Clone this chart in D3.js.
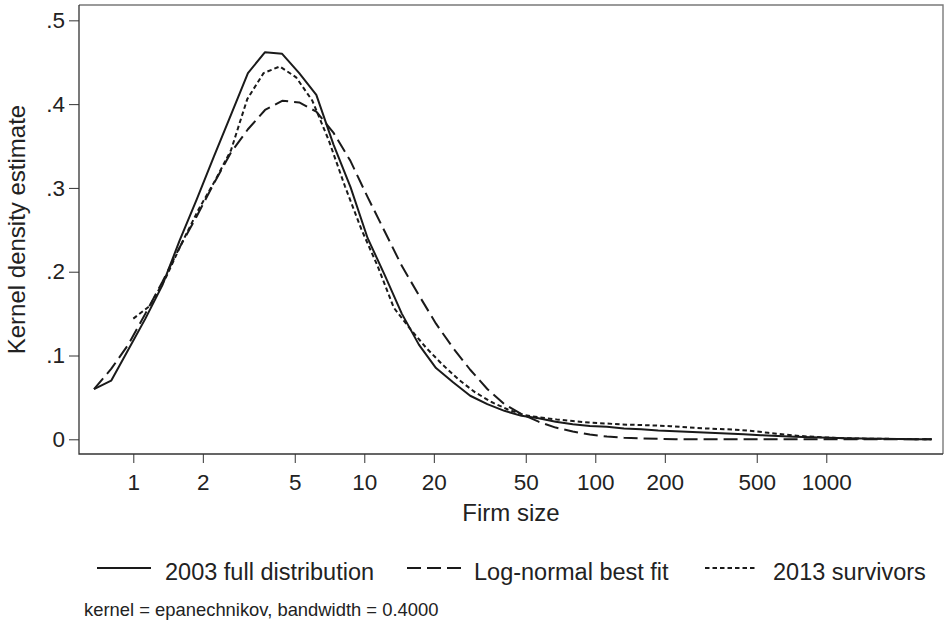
<!DOCTYPE html>
<html><head><meta charset="utf-8">
<script src="https://cdn.jsdelivr.net/npm/d3@7"></script>
<style>
body{margin:0;background:#fff}
svg{display:block}
text{font-family:"Liberation Sans",Arial,Helvetica,sans-serif;fill:#222}
</style>
</head><body><svg id="c" width="944" height="622"></svg>
<script>
// ---- data ----
const sizeGrid2003 = [0.676,0.802,0.951,1.128,1.337,1.586,1.880,2.230,2.644,3.135,
  3.718,4.409,5.228,6.199,7.351,8.717,10.34,12.26,14.53,17.23,
  20.44,24.23,28.74,34.08,40.41,47.92,56.82,67.38,79.90,94.74,
  112.3,133.2,158.0,187.3,222.1,263.4,312.3,370.4,439.2,520.8,
  617.6,732.3,868.4,1029.8,1221,1448,1717,2036,2415,2863];
const full2003 = [0.060,0.070,0.107,0.144,0.184,0.237,0.286,0.337,0.387,0.437,
  0.462,0.460,0.437,0.411,0.352,0.301,0.240,0.196,0.150,0.113,
  0.085,0.068,0.052,0.042,0.034,0.028,0.025,0.021,0.018,0.016,
  0.015,0.013,0.012,0.0105,0.0095,0.0087,0.0079,0.0069,0.0060,0.0049,
  0.0040,0.0031,0.0024,0.0018,0.0013,0.0010,0.0006,0.0004,0.0002,0.0001];
const logNormalFit = [0.060,0.084,0.113,0.150,0.188,0.229,0.266,0.305,0.342,0.370,
  0.393,0.404,0.402,0.391,0.366,0.332,0.289,0.248,0.207,0.172,
  0.138,0.109,0.083,0.060,0.042,0.030,0.021,0.014,0.0093,0.0057,
  0.0033,0.0018,0.0010,0.0005,0.0002,0.0001,0,0,0,0,
  0,0,0,0,0,0,0,0,0,0];
const sizeGrid2013 = [1.000,1.176,1.383,1.627,1.914,2.251,2.648,3.114,3.663,4.308,
  5.068,5.960,7.011,8.246,9.699,11.41,13.42,15.78,18.56,21.83,
  25.68,30.21,35.53,41.79,49.15,57.81,68.00,79.98,94.07,110.7,
  130.1,153.1,180.0,211.8,249.1,293.0,344.6,405.3,476.7,560.7,
  659.5,775.7,912.4,1073,1262,1485,1746,2054,2416,2842];
const survivors2013 = [0.144,0.159,0.193,0.235,0.274,0.308,0.345,0.406,0.437,0.445,
  0.432,0.404,0.357,0.302,0.251,0.207,0.157,0.132,0.109,0.089,
  0.071,0.056,0.0445,0.0356,0.029,0.026,0.0236,0.0218,0.020,0.0189,
  0.0177,0.0171,0.0165,0.0156,0.0143,0.0131,0.0123,0.0115,0.0099,0.0078,
  0.0057,0.0039,0.0027,0.0018,0.0012,0.0008,0.0006,0.0004,0.0002,0.0001];
const xTickValues = [1,2,5,10,20,50,100,200,500,1000];
const yTickValues = [0,0.1,0.2,0.3,0.4,0.5];
const yTickLabels = ["0",".1",".2",".3",".4",".5"];
const seriesNames = ["2003 full distribution","Log-normal best fit","2013 survivors"];
const xTitle = "Firm size";
const yTitle = "Kernel density estimate";
const note = "kernel = epanechnikov, bandwidth = 0.4000";

// ---- layout ----
const L = 79, R = 943, T = 5, B = 454;
const svg = d3.select("#c");
const x = d3.scaleLog().domain([0.582, 3201]).range([L, R]);
const y = d3.scaleLinear().domain([-0.01754, 0.5183]).range([B, T]);
const ink = "#1a1a1a";

// frame (top & right light)
svg.append("path").attr("d", `M${L},${T}H${R}V${B}`)
  .attr("fill", "none").attr("stroke", "#7a7a7a").attr("stroke-width", 1.4);

// axes
const gy = svg.append("g").attr("transform", `translate(${L},0)`)
  .call(d3.axisLeft(y).tickValues(yTickValues).tickFormat((d, i) => yTickLabels[i])
    .tickSize(10).tickPadding(4));
const gx = svg.append("g").attr("transform", `translate(0,${B})`)
  .call(d3.axisBottom(x).tickValues(xTickValues).tickFormat(d3.format("d"))
    .tickSize(9).tickPadding(11));
[gx, gy].forEach(g => {
  g.select(".domain").remove();
  g.selectAll(".tick line").attr("stroke", "#333").attr("stroke-width", 1);
  g.selectAll(".tick text").attr("font-size", 22.5).attr("fill", "#222")
    .attr("font-family", '"Liberation Sans",Arial,sans-serif');
});
svg.append("path").attr("d", `M${L},${T}V${B}H${R}`)
  .attr("fill", "none").attr("stroke", "#333").attr("stroke-width", 1.3);

// axis titles
svg.append("text").attr("x", (L + R) / 2).attr("y", 521).attr("text-anchor", "middle")
  .attr("font-size", 24).text(xTitle);
svg.append("text").attr("transform", `translate(25,${(T + B) / 2}) rotate(-90)`)
  .attr("text-anchor", "middle").attr("font-size", 24).text(yTitle);

// series
const line = d3.line().x(d => x(d[0])).y(d => y(d[1]));
const series = [
  {xs: sizeGrid2003, ys: full2003, dash: null},
  {xs: sizeGrid2003, ys: logNormalFit, dash: "14,6"},
  {xs: sizeGrid2013, ys: survivors2013, dash: "4.5,3"}
];
series.forEach(s => {
  svg.append("path").datum(d3.zip(s.xs, s.ys)).attr("d", line)
    .attr("fill", "none").attr("stroke", ink).attr("stroke-width", 2)
    .attr("stroke-linejoin", "round")
    .attr("stroke-dasharray", s.dash);
});

// legend
const legY = 568;
const legItems = [
  {x0: 97, x1: 151, tx: 165, dash: null},
  {x0: 407, x1: 461, tx: 474, dash: "14,6"},
  {x0: 705, x1: 757, tx: 773, dash: "4.5,3"}
];
legItems.forEach((it, i) => {
  svg.append("line").attr("x1", it.x0).attr("x2", it.x1).attr("y1", legY).attr("y2", legY)
    .attr("stroke", ink).attr("stroke-width", 2).attr("stroke-dasharray", it.dash);
  svg.append("text").attr("x", it.tx).attr("y", legY + 12).attr("font-size", 23.5)
    .text(seriesNames[i]);
});

// note
svg.append("text").attr("x", 84).attr("y", 616).attr("font-size", 18.4).text(note);
</script>
</body></html>
